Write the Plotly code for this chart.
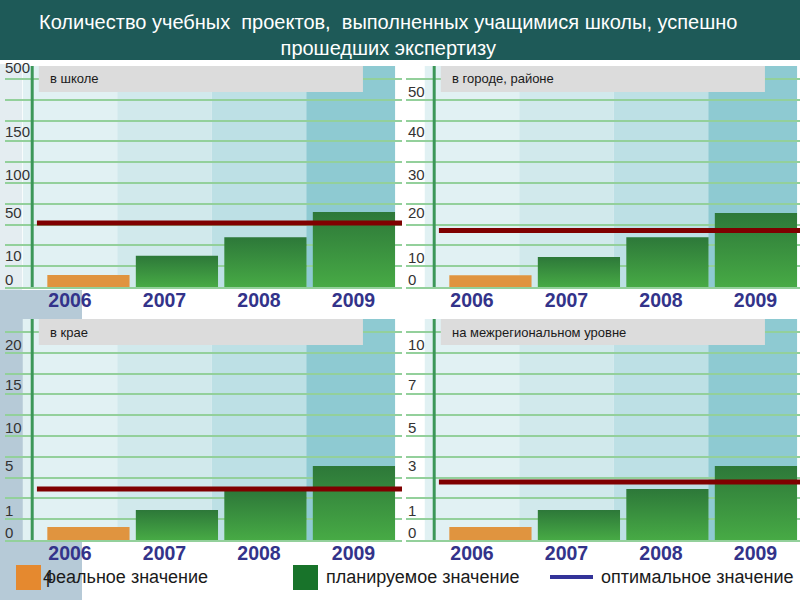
import numpy as np
import plotly.graph_objects as go

W, H = 800, 600

YEARS = ["2006", "2007", "2008", "2009"]
PANEL_TITLES = ["в школе", "в городе, районе", "в крае", "на межрегиональном уровне"]

# tick labels of each panel's (non-linear) value scale
SCHOOL_TICKS = [0, 10, 50, 100, 150, 500]
CITY_TICKS = [0, 10, 20, 30, 40, 50]
KRAI_TICKS = [0, 1, 5, 10, 15, 20]
INTER_TICKS = [0, 1, 3, 5, 7, 10]

# 2006 - real value, 2007..2009 - planned values
SCHOOL_VALUES = [2, 10, 27, 50]
CITY_VALUES = [2, 10, 14.5, 20]
KRAI_VALUES = [0.26, 1, 2.75, 5]
INTER_VALUES = [0.26, 1, 1.95, 3]

SCHOOL_OPTIMAL = 40
CITY_OPTIMAL = 16
KRAI_OPTIMAL = 2.9
INTER_OPTIMAL = 2.27

# where each tick label sits on the grid (10 grid steps per panel)
TOP_LEFT_TICK_POS = [0.34, 1.5, 3.6, 5.4, 7.5, 10.55]
OTHER_TICK_POS = [0.34, 1.44, 3.56, 5.43, 7.5, 9.4]

GRID_PX = 20.8
CAT_PX = 94.5

panels = [
    # ticks, tick positions, values, optimal, (x0, x1, top, base, first category px)
    (SCHOOL_TICKS, TOP_LEFT_TICK_POS, SCHOOL_VALUES, SCHOOL_OPTIMAL, (5, 402, 66, 287, 70)),
    (CITY_TICKS, OTHER_TICK_POS, CITY_VALUES, CITY_OPTIMAL, (406, 800, 66, 287, 472)),
    (KRAI_TICKS, OTHER_TICK_POS, KRAI_VALUES, KRAI_OPTIMAL, (5, 402, 319, 540, 70)),
    (INTER_TICKS, OTHER_TICK_POS, INTER_VALUES, INTER_OPTIMAL, (406, 800, 319, 540, 472)),
]

BAND_COLORS = ["#e1f1f3", "#d1e9ec", "#bde0e5", "#8ecad2"]
GRID_COLOR = "#93d09b"
AXIS_COLOR = "#3c9758"
ORANGE = "#e0943f"
GREEN_SCALE = [[0, "#47aa45"], [1, "#2d7839"]]
OPT_COLOR = "#7f0000"
YEAR_COLOR = "#33338a"
FONT = "Liberation Sans, Arial, sans-serif"

# bars sit on a slightly tighter pitch than the shaded columns
BAR_START = -0.24
BAR_STEP = 0.9365
BAR_WIDTH = 0.87


def px_x(px):
    return px / W


def px_y(py):
    return 1 - py / H


fig = go.Figure()
shapes = []
annotations = []

# slide decoration
shapes.append(dict(type="rect", xref="paper", yref="paper", x0=0, x1=1,
                   y0=px_y(60), y1=1, fillcolor="#1e5a58", line_width=0, layer="below"))
shapes.append(dict(type="rect", xref="paper", yref="paper", x0=0, x1=px_x(82),
                   y0=0, y1=px_y(290), fillcolor="#b6cad7", line_width=0, layer="below"))
shapes.append(dict(type="rect", xref="paper", yref="paper", x0=0, x1=px_x(22),
                   y0=px_y(290), y1=px_y(64), fillcolor="#e4edf1", line_width=0, layer="below"))

for k, (ticks, tick_pos, values, optimal, geo) in enumerate(panels):
    x0, x1, top, base, cat0 = geo
    n = k + 1
    xa = "x" if n == 1 else f"x{n}"
    ya = "y" if n == 1 else f"y{n}"
    y_top = (base - top) / GRID_PX

    # value -> grid position through the panel's own scale
    disp = np.interp(values, ticks, tick_pos)
    opt_disp = float(np.interp(optimal, ticks, tick_pos))

    for i, v in enumerate(disp):
        left = BAR_START + i * BAR_STEP
        right = left + BAR_WIDTH
        trace = dict(
            x=[left, left, right, right, left], y=[0, v, v, 0, 0],
            xaxis=xa, yaxis=ya, mode="lines", line=dict(width=0),
            fill="toself", hoverinfo="skip", showlegend=False,
        )
        if i == 0:
            trace["fillcolor"] = ORANGE
        else:
            trace["fillcolor"] = "#3a903f"
            trace["fillgradient"] = dict(type="vertical", colorscale=GREEN_SCALE)
        fig.add_trace(go.Scatter(**trace))

    fig.add_trace(go.Scatter(
        x=[-0.35, 3.8], y=[opt_disp, opt_disp], xaxis=xa, yaxis=ya,
        mode="lines", line=dict(color=OPT_COLOR, width=5),
        hoverinfo="skip", showlegend=False,
    ))

    # column bands
    for i, c in enumerate(BAND_COLORS):
        shapes.append(dict(type="rect", xref=xa, yref=ya, x0=i - 0.5,
                           x1=(i + 0.5) if i < 3 else 3.44, y0=0, y1=y_top,
                           fillcolor=c, line_width=0, layer="below"))
    # caption box
    shapes.append(dict(type="rect", xref=xa, yref=ya, x0=-0.33, x1=3.1,
                       y0=y_top - 26 / GRID_PX, y1=y_top, fillcolor="#dcdcdc",
                       line_width=0, layer="above"))
    # vertical axis line
    shapes.append(dict(type="line", xref=xa, yref=ya, x0=-0.4, x1=-0.4,
                       y0=0, y1=y_top, line=dict(color=AXIS_COLOR, width=3),
                       layer="above"))
    annotations.append(dict(xref=xa, yref=ya, x=-0.235, y=y_top - 13 / GRID_PX,
                            text=PANEL_TITLES[k], showarrow=False, xanchor="left",
                            yanchor="middle", font=dict(family=FONT, size=13, color="#1a1a1a")))

    # scale labels, left-aligned at the panel edge
    for t, p in zip(ticks, tick_pos):
        annotations.append(dict(xref="paper", yref=ya, x=px_x(x0 + (0 if k % 2 == 0 else 2)),
                                y=p, text=str(t), showarrow=False, xanchor="left",
                                yanchor="middle", xshift=-2,
                                font=dict(family=FONT, size=15, color="#333333")))

    xkey = "xaxis" if n == 1 else f"xaxis{n}"
    ykey = "yaxis" if n == 1 else f"yaxis{n}"
    fig.update_layout(**{
        xkey: dict(
            domain=[px_x(x0), px_x(x1)], anchor=ya,
            range=[(x0 - cat0) / CAT_PX, (x1 - cat0) / CAT_PX],
            tickvals=[0, 1, 2, 3], ticktext=YEARS, ticks="",
            tickfont=dict(family=FONT, size=19.5, color=YEAR_COLOR, weight="bold"),
            ticklabelstandoff=-5,
            showgrid=False, zeroline=False, showline=True,
            linecolor=GRID_COLOR, linewidth=2, fixedrange=True,
        ),
        ykey: dict(
            domain=[px_y(base), px_y(top)], anchor=xa,
            range=[0, y_top], tickvals=tick_pos, showticklabels=False, ticks="",
            showgrid=False, zeroline=False, fixedrange=True,
            minor=dict(tickvals=list(range(1, 11)), showgrid=True,
                       gridcolor=GRID_COLOR, gridwidth=2, ticks=""),
        ),
    })

# title
annotations.append(dict(
    xref="paper", yref="paper", x=px_x(388), y=px_y(35),
    text="Количество учебных  проектов,  выполненных учащимися школы, успешно<br>прошедших экспертизу",
    showarrow=False, xanchor="center", yanchor="middle", align="center",
    font=dict(family=FONT, size=20, color="white"),
))

# legend
shapes.append(dict(type="rect", xref="paper", yref="paper", x0=px_x(16), x1=px_x(41),
                   y0=px_y(590), y1=px_y(565), fillcolor="#e5892f", line_width=0))
shapes.append(dict(type="rect", xref="paper", yref="paper", x0=px_x(293), x1=px_x(318),
                   y0=px_y(590), y1=px_y(565), fillcolor="#18732a", line_width=0))
shapes.append(dict(type="line", xref="paper", yref="paper", x0=px_x(550), x1=px_x(593),
                   y0=px_y(577), y1=px_y(577), line=dict(color="#333399", width=4)))
legend_items = [(41, "4"), (44, "реальное значение"), (324, "планируемое значение"),
                (599, "оптимальное значение")]
for lx, txt in legend_items:
    annotations.append(dict(xref="paper", yref="paper", x=px_x(lx), y=px_y(577),
                            text=txt, showarrow=False, xanchor="left", yanchor="middle",
                            font=dict(family=FONT, size=18, color="#1a1a1a")))

fig.update_layout(
    width=W, height=H, margin=dict(l=0, r=0, t=0, b=0),
    paper_bgcolor="white", plot_bgcolor="rgba(0,0,0,0)",
    shapes=shapes, annotations=annotations, showlegend=False,
)

fig.write_html("out.html", config={"displayModeBar": False},
               post_script="document.body.style.margin = '0';")
